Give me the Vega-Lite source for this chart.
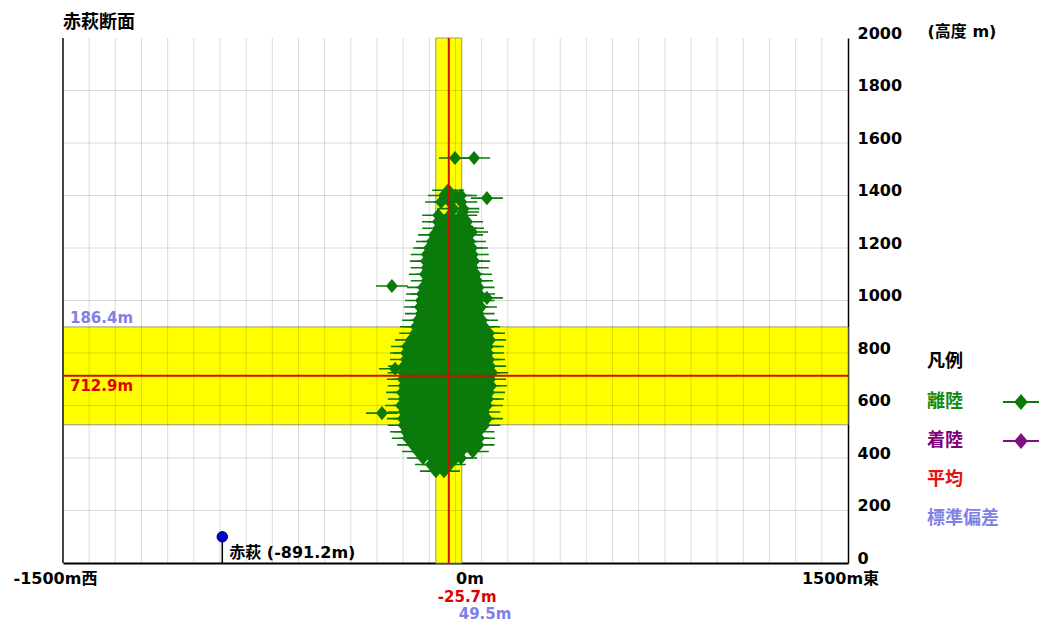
{
  "$schema": "https://vega.github.io/schema/vega-lite/v6.json",
  "width": 785,
  "height": 525,
  "autosize": {"type": "none"},
  "padding": {"left": 63, "top": 38, "right": 196, "bottom": 63},
  "title": {"text": "赤萩断面", "anchor": "start", "frame": "group", "font": "Noto Sans CJK JP", "fontSize": 18, "fontWeight": "bold", "color": "#000000", "offset": -9},
  "config": {"view": {"stroke": null}, "font": "DejaVu Sans"},
  "datasets": {
    "bands": [
      {"x1": -1500, "x2": 1500, "y1": 526.5, "y2": 899.3},
      {"x1": -75.2, "x2": 23.8, "y1": 0, "y2": 2000}
    ],
    "vgrid": [
      {"g": -1400}, {"g": -1300}, {"g": -1200}, {"g": -1100}, {"g": -1000}, {"g": -900}, {"g": -800}, {"g": -700}, {"g": -600}, {"g": -500},
      {"g": -400}, {"g": -300}, {"g": -200}, {"g": -100}, {"g": 0}, {"g": 100}, {"g": 200}, {"g": 300}, {"g": 400}, {"g": 500},
      {"g": 600}, {"g": 700}, {"g": 800}, {"g": 900}, {"g": 1000}, {"g": 1100}, {"g": 1200}, {"g": 1300}, {"g": 1400}
    ],
    "hgrid": [
      {"g": 200}, {"g": 400}, {"g": 600}, {"g": 800}, {"g": 1000}, {"g": 1200}, {"g": 1400}, {"g": 1600}, {"g": 1800}
    ],
    "stats": [{"mx": -25.7, "sx": 49.5, "my": 712.9, "sy": 186.4}],
    "site": [{"x": -891.2, "y0": 0, "y": 100, "name": "赤萩 (-891.2m)"}],
    "pts": [
      {"x": -28, "y": 1420, "type": "離陸"},
      {"x": -44, "y": 1400, "type": "離陸"}, {"x": 0, "y": 1400, "type": "離陸"}, {"x": 21, "y": 1400, "type": "離陸"},
      {"x": -55, "y": 1375, "type": "離陸"}, {"x": -22, "y": 1375, "type": "離陸"}, {"x": 22, "y": 1375, "type": "離陸"},
      {"x": -8, "y": 1350, "type": "離陸"}, {"x": 30, "y": 1350, "type": "離陸"},
      {"x": -66, "y": 1325, "type": "離陸"}, {"x": -22, "y": 1325, "type": "離陸"}, {"x": 22, "y": 1325, "type": "離陸"},
      {"x": -67, "y": 1300, "type": "離陸"}, {"x": -44, "y": 1300, "type": "離陸"}, {"x": 0, "y": 1300, "type": "離陸"}, {"x": 44, "y": 1300, "type": "離陸"},
      {"x": -66, "y": 1275, "type": "離陸"}, {"x": -22, "y": 1275, "type": "離陸"}, {"x": 22, "y": 1275, "type": "離陸"}, {"x": 48, "y": 1275, "type": "離陸"},
      {"x": -82, "y": 1250, "type": "離陸"}, {"x": -44, "y": 1250, "type": "離陸"}, {"x": 0, "y": 1250, "type": "離陸"}, {"x": 44, "y": 1250, "type": "離陸"},
      {"x": -90, "y": 1225, "type": "離陸"}, {"x": -66, "y": 1225, "type": "離陸"}, {"x": -22, "y": 1225, "type": "離陸"}, {"x": 22, "y": 1225, "type": "離陸"}, {"x": 55, "y": 1225, "type": "離陸"},
      {"x": -101, "y": 1200, "type": "離陸"}, {"x": -88, "y": 1200, "type": "離陸"}, {"x": -44, "y": 1200, "type": "離陸"}, {"x": 0, "y": 1200, "type": "離陸"}, {"x": 44, "y": 1200, "type": "離陸"}, {"x": 63, "y": 1200, "type": "離陸"},
      {"x": -110, "y": 1175, "type": "離陸"}, {"x": -66, "y": 1175, "type": "離陸"}, {"x": -22, "y": 1175, "type": "離陸"}, {"x": 22, "y": 1175, "type": "離陸"}, {"x": 66, "y": 1175, "type": "離陸"},
      {"x": -113, "y": 1150, "type": "離陸"}, {"x": -88, "y": 1150, "type": "離陸"}, {"x": -44, "y": 1150, "type": "離陸"}, {"x": 0, "y": 1150, "type": "離陸"}, {"x": 44, "y": 1150, "type": "離陸"}, {"x": 71, "y": 1150, "type": "離陸"},
      {"x": -110, "y": 1125, "type": "離陸"}, {"x": -66, "y": 1125, "type": "離陸"}, {"x": -22, "y": 1125, "type": "離陸"}, {"x": 22, "y": 1125, "type": "離陸"}, {"x": 66, "y": 1125, "type": "離陸"},
      {"x": -117, "y": 1100, "type": "離陸"}, {"x": -88, "y": 1100, "type": "離陸"}, {"x": -44, "y": 1100, "type": "離陸"}, {"x": 0, "y": 1100, "type": "離陸"}, {"x": 44, "y": 1100, "type": "離陸"}, {"x": 78, "y": 1100, "type": "離陸"},
      {"x": -110, "y": 1075, "type": "離陸"}, {"x": -66, "y": 1075, "type": "離陸"}, {"x": -22, "y": 1075, "type": "離陸"}, {"x": 22, "y": 1075, "type": "離陸"}, {"x": 66, "y": 1075, "type": "離陸"}, {"x": 82, "y": 1075, "type": "離陸"},
      {"x": -124, "y": 1050, "type": "離陸"}, {"x": -88, "y": 1050, "type": "離陸"}, {"x": -44, "y": 1050, "type": "離陸"}, {"x": 0, "y": 1050, "type": "離陸"}, {"x": 44, "y": 1050, "type": "離陸"}, {"x": 88, "y": 1050, "type": "離陸"},
      {"x": -128, "y": 1025, "type": "離陸"}, {"x": -110, "y": 1025, "type": "離陸"}, {"x": -66, "y": 1025, "type": "離陸"}, {"x": -22, "y": 1025, "type": "離陸"}, {"x": 22, "y": 1025, "type": "離陸"}, {"x": 66, "y": 1025, "type": "離陸"}, {"x": 90, "y": 1025, "type": "離陸"},
      {"x": -132, "y": 1000, "type": "離陸"}, {"x": -88, "y": 1000, "type": "離陸"}, {"x": -44, "y": 1000, "type": "離陸"}, {"x": 0, "y": 1000, "type": "離陸"}, {"x": 44, "y": 1000, "type": "離陸"}, {"x": 88, "y": 1000, "type": "離陸"},
      {"x": -136, "y": 975, "type": "離陸"}, {"x": -110, "y": 975, "type": "離陸"}, {"x": -66, "y": 975, "type": "離陸"}, {"x": -22, "y": 975, "type": "離陸"}, {"x": 22, "y": 975, "type": "離陸"}, {"x": 66, "y": 975, "type": "離陸"}, {"x": 97, "y": 975, "type": "離陸"},
      {"x": -132, "y": 950, "type": "離陸"}, {"x": -88, "y": 950, "type": "離陸"}, {"x": -44, "y": 950, "type": "離陸"}, {"x": 0, "y": 950, "type": "離陸"}, {"x": 44, "y": 950, "type": "離陸"}, {"x": 88, "y": 950, "type": "離陸"},
      {"x": -143, "y": 925, "type": "離陸"}, {"x": -110, "y": 925, "type": "離陸"}, {"x": -66, "y": 925, "type": "離陸"}, {"x": -22, "y": 925, "type": "離陸"}, {"x": 22, "y": 925, "type": "離陸"}, {"x": 66, "y": 925, "type": "離陸"}, {"x": 101, "y": 925, "type": "離陸"},
      {"x": -151, "y": 900, "type": "離陸"}, {"x": -132, "y": 900, "type": "離陸"}, {"x": -88, "y": 900, "type": "離陸"}, {"x": -44, "y": 900, "type": "離陸"}, {"x": 0, "y": 900, "type": "離陸"}, {"x": 44, "y": 900, "type": "離陸"}, {"x": 88, "y": 900, "type": "離陸"}, {"x": 109, "y": 900, "type": "離陸"},
      {"x": -154, "y": 875, "type": "離陸"}, {"x": -110, "y": 875, "type": "離陸"}, {"x": -66, "y": 875, "type": "離陸"}, {"x": -22, "y": 875, "type": "離陸"}, {"x": 22, "y": 875, "type": "離陸"}, {"x": 66, "y": 875, "type": "離陸"}, {"x": 110, "y": 875, "type": "離陸"}, {"x": 128, "y": 875, "type": "離陸"},
      {"x": -170, "y": 850, "type": "離陸"}, {"x": -132, "y": 850, "type": "離陸"}, {"x": -88, "y": 850, "type": "離陸"}, {"x": -44, "y": 850, "type": "離陸"}, {"x": 0, "y": 850, "type": "離陸"}, {"x": 44, "y": 850, "type": "離陸"}, {"x": 88, "y": 850, "type": "離陸"}, {"x": 132, "y": 850, "type": "離陸"},
      {"x": -185, "y": 825, "type": "離陸"}, {"x": -154, "y": 825, "type": "離陸"}, {"x": -110, "y": 825, "type": "離陸"}, {"x": -66, "y": 825, "type": "離陸"}, {"x": -22, "y": 825, "type": "離陸"}, {"x": 22, "y": 825, "type": "離陸"}, {"x": 66, "y": 825, "type": "離陸"}, {"x": 110, "y": 825, "type": "離陸"}, {"x": 124, "y": 825, "type": "離陸"},
      {"x": -189, "y": 800, "type": "離陸"}, {"x": -176, "y": 800, "type": "離陸"}, {"x": -132, "y": 800, "type": "離陸"}, {"x": -88, "y": 800, "type": "離陸"}, {"x": -44, "y": 800, "type": "離陸"}, {"x": 0, "y": 800, "type": "離陸"}, {"x": 44, "y": 800, "type": "離陸"}, {"x": 88, "y": 800, "type": "離陸"}, {"x": 124, "y": 800, "type": "離陸"},
      {"x": -189, "y": 775, "type": "離陸"}, {"x": -154, "y": 775, "type": "離陸"}, {"x": -110, "y": 775, "type": "離陸"}, {"x": -66, "y": 775, "type": "離陸"}, {"x": -22, "y": 775, "type": "離陸"}, {"x": 22, "y": 775, "type": "離陸"}, {"x": 66, "y": 775, "type": "離陸"}, {"x": 110, "y": 775, "type": "離陸"}, {"x": 128, "y": 775, "type": "離陸"},
      {"x": -197, "y": 750, "type": "離陸"}, {"x": -176, "y": 750, "type": "離陸"}, {"x": -132, "y": 750, "type": "離陸"}, {"x": -88, "y": 750, "type": "離陸"}, {"x": -44, "y": 750, "type": "離陸"}, {"x": 0, "y": 750, "type": "離陸"}, {"x": 44, "y": 750, "type": "離陸"}, {"x": 88, "y": 750, "type": "離陸"}, {"x": 132, "y": 750, "type": "離陸"},
      {"x": -198, "y": 725, "type": "離陸"}, {"x": -154, "y": 725, "type": "離陸"}, {"x": -110, "y": 725, "type": "離陸"}, {"x": -66, "y": 725, "type": "離陸"}, {"x": -22, "y": 725, "type": "離陸"}, {"x": 22, "y": 725, "type": "離陸"}, {"x": 66, "y": 725, "type": "離陸"}, {"x": 110, "y": 725, "type": "離陸"}, {"x": 140, "y": 725, "type": "離陸"},
      {"x": -201, "y": 700, "type": "離陸"}, {"x": -176, "y": 700, "type": "離陸"}, {"x": -132, "y": 700, "type": "離陸"}, {"x": -88, "y": 700, "type": "離陸"}, {"x": -44, "y": 700, "type": "離陸"}, {"x": 0, "y": 700, "type": "離陸"}, {"x": 44, "y": 700, "type": "離陸"}, {"x": 88, "y": 700, "type": "離陸"}, {"x": 132, "y": 700, "type": "離陸"},
      {"x": -198, "y": 675, "type": "離陸"}, {"x": -154, "y": 675, "type": "離陸"}, {"x": -110, "y": 675, "type": "離陸"}, {"x": -66, "y": 675, "type": "離陸"}, {"x": -22, "y": 675, "type": "離陸"}, {"x": 22, "y": 675, "type": "離陸"}, {"x": 66, "y": 675, "type": "離陸"}, {"x": 110, "y": 675, "type": "離陸"}, {"x": 136, "y": 675, "type": "離陸"},
      {"x": -204, "y": 650, "type": "離陸"}, {"x": -176, "y": 650, "type": "離陸"}, {"x": -132, "y": 650, "type": "離陸"}, {"x": -88, "y": 650, "type": "離陸"}, {"x": -44, "y": 650, "type": "離陸"}, {"x": 0, "y": 650, "type": "離陸"}, {"x": 44, "y": 650, "type": "離陸"}, {"x": 88, "y": 650, "type": "離陸"}, {"x": 128, "y": 650, "type": "離陸"},
      {"x": -198, "y": 625, "type": "離陸"}, {"x": -154, "y": 625, "type": "離陸"}, {"x": -110, "y": 625, "type": "離陸"}, {"x": -66, "y": 625, "type": "離陸"}, {"x": -22, "y": 625, "type": "離陸"}, {"x": 22, "y": 625, "type": "離陸"}, {"x": 66, "y": 625, "type": "離陸"}, {"x": 110, "y": 625, "type": "離陸"}, {"x": 124, "y": 625, "type": "離陸"},
      {"x": -208, "y": 600, "type": "離陸"}, {"x": -176, "y": 600, "type": "離陸"}, {"x": -132, "y": 600, "type": "離陸"}, {"x": -88, "y": 600, "type": "離陸"}, {"x": -44, "y": 600, "type": "離陸"}, {"x": 0, "y": 600, "type": "離陸"}, {"x": 44, "y": 600, "type": "離陸"}, {"x": 88, "y": 600, "type": "離陸"}, {"x": 120, "y": 600, "type": "離陸"},
      {"x": -198, "y": 575, "type": "離陸"}, {"x": -154, "y": 575, "type": "離陸"}, {"x": -110, "y": 575, "type": "離陸"}, {"x": -66, "y": 575, "type": "離陸"}, {"x": -22, "y": 575, "type": "離陸"}, {"x": 22, "y": 575, "type": "離陸"}, {"x": 66, "y": 575, "type": "離陸"}, {"x": 110, "y": 575, "type": "離陸"},
      {"x": -201, "y": 550, "type": "離陸"}, {"x": -176, "y": 550, "type": "離陸"}, {"x": -132, "y": 550, "type": "離陸"}, {"x": -88, "y": 550, "type": "離陸"}, {"x": -44, "y": 550, "type": "離陸"}, {"x": 0, "y": 550, "type": "離陸"}, {"x": 44, "y": 550, "type": "離陸"}, {"x": 88, "y": 550, "type": "離陸"}, {"x": 120, "y": 550, "type": "離陸"},
      {"x": -198, "y": 525, "type": "離陸"}, {"x": -154, "y": 525, "type": "離陸"}, {"x": -110, "y": 525, "type": "離陸"}, {"x": -66, "y": 525, "type": "離陸"}, {"x": -22, "y": 525, "type": "離陸"}, {"x": 22, "y": 525, "type": "離陸"}, {"x": 66, "y": 525, "type": "離陸"}, {"x": 110, "y": 525, "type": "離陸"},
      {"x": -189, "y": 500, "type": "離陸"}, {"x": -176, "y": 500, "type": "離陸"}, {"x": -132, "y": 500, "type": "離陸"}, {"x": -88, "y": 500, "type": "離陸"}, {"x": -44, "y": 500, "type": "離陸"}, {"x": 0, "y": 500, "type": "離陸"}, {"x": 44, "y": 500, "type": "離陸"}, {"x": 88, "y": 500, "type": "離陸"},
      {"x": -182, "y": 475, "type": "離陸"}, {"x": -154, "y": 475, "type": "離陸"}, {"x": -110, "y": 475, "type": "離陸"}, {"x": -66, "y": 475, "type": "離陸"}, {"x": -22, "y": 475, "type": "離陸"}, {"x": 22, "y": 475, "type": "離陸"}, {"x": 66, "y": 475, "type": "離陸"}, {"x": 90, "y": 475, "type": "離陸"},
      {"x": -162, "y": 450, "type": "離陸"}, {"x": -132, "y": 450, "type": "離陸"}, {"x": -88, "y": 450, "type": "離陸"}, {"x": -44, "y": 450, "type": "離陸"}, {"x": 0, "y": 450, "type": "離陸"}, {"x": 44, "y": 450, "type": "離陸"}, {"x": 88, "y": 450, "type": "離陸"},
      {"x": -143, "y": 425, "type": "離陸"}, {"x": -110, "y": 425, "type": "離陸"}, {"x": -66, "y": 425, "type": "離陸"}, {"x": -22, "y": 425, "type": "離陸"}, {"x": 22, "y": 425, "type": "離陸"}, {"x": 66, "y": 425, "type": "離陸"},
      {"x": -124, "y": 400, "type": "離陸"}, {"x": -88, "y": 400, "type": "離陸"}, {"x": -44, "y": 400, "type": "離陸"}, {"x": 0, "y": 400, "type": "離陸"}, {"x": 21, "y": 400, "type": "離陸"},
      {"x": -94, "y": 375, "type": "離陸"}, {"x": -66, "y": 375, "type": "離陸"}, {"x": -22, "y": 375, "type": "離陸"},
      {"x": -75, "y": 350, "type": "離陸"}, {"x": -44, "y": 350, "type": "離陸"},
      {"x": -2, "y": 1543, "type": "離陸"}, {"x": 71, "y": 1543, "type": "離陸"}, {"x": 120, "y": 1390, "type": "離陸"},
      {"x": -243, "y": 1055, "type": "離陸"}, {"x": 120, "y": 1010, "type": "離陸"}, {"x": -281, "y": 571, "type": "離陸"},
      {"x": -231, "y": 740, "type": "離陸"}, {"x": 63, "y": 1261, "type": "離陸"}, {"x": 29, "y": 1337, "type": "離陸"}
    ]
  },
  "layer": [
    {
      "data": {"name": "bands"},
      "mark": {"type": "rect", "fill": "#FFFF00", "stroke": "#9A9A70", "strokeWidth": 1},
      "encoding": {
        "x": {"field": "x1", "type": "quantitative", "scale": {"domain": [-1500, 1500]},
          "axis": {"values": [-1500, 0, 1500], "title": null, "grid": false, "ticks": false, "tickSize": 0,
            "domainColor": "#000000", "domainWidth": 2,
            "labelExpr": "datum.value == -1500 ? '-1500m西' : (datum.value == 0 ? '0m' : '1500m東')",
            "labelFont": "DejaVu Sans, Noto Sans CJK JP", "labelFontSize": 16, "labelFontWeight": "bold", "labelColor": "#000000",
            "labelPadding": 7, "labelFlush": false, "labelOverlap": false, "labelBound": false,
            "labelAlign": {"condition": {"test": "datum.value == 0", "value": "left"}, "value": "center"},
            "labelOffset": {"condition": {"test": "datum.value == 0", "value": 0}, "value": -8}}},
        "x2": {"field": "x2"},
        "y": {"field": "y1", "type": "quantitative", "scale": {"domain": [0, 2000]},
          "axis": {"orient": "right", "values": [0, 200, 400, 600, 800, 1000, 1200, 1400, 1600, 1800, 2000], "format": "d",
            "grid": false, "ticks": false, "tickSize": 0, "domainColor": "#000000", "domainWidth": 1.5,
            "labelFont": "DejaVu Sans", "labelFontSize": 16, "labelFontWeight": "bold", "labelColor": "#000000",
            "labelPadding": 9, "labelBaseline": "alphabetic", "labelAlign": "left", "labelOverlap": false, "labelBound": false, "labelFlush": false,
            "title": "(高度 m)", "titleAngle": 0, "titleX": 79, "titleY": -7, "titleAlign": "left", "titleBaseline": "middle",
            "titleFont": "DejaVu Sans, Noto Sans CJK JP", "titleFontSize": 16, "titleFontWeight": "bold", "titleColor": "#000000"}},
        "y2": {"field": "y2"}
      }
    },
    {
      "data": {"name": "vgrid"},
      "mark": {"type": "rule", "color": "#000000", "opacity": 0.14, "strokeWidth": 1},
      "encoding": {"x": {"field": "g", "type": "quantitative", "scale": {"domain": [-1500, 1500]}}}
    },
    {
      "data": {"name": "hgrid"},
      "mark": {"type": "rule", "color": "#000000", "opacity": 0.14, "strokeWidth": 1},
      "encoding": {"y": {"field": "g", "type": "quantitative", "scale": {"domain": [0, 2000]}}}
    },
    {
      "data": {"values": [{"g": -1500}]},
      "mark": {"type": "rule", "color": "#444444", "strokeWidth": 2},
      "encoding": {"x": {"field": "g", "type": "quantitative", "scale": {"domain": [-1500, 1500]}}}
    },
    {
      "data": {"name": "pts"},
      "mark": {"type": "point", "filled": true, "opacity": 1, "size": 1024, "strokeWidth": 0},
      "encoding": {
        "x": {"field": "x", "type": "quantitative", "scale": {"domain": [-1500, 1500]}},
        "y": {"field": "y", "type": "quantitative", "scale": {"domain": [0, 2000]}},
        "color": {"field": "type", "type": "nominal",
          "scale": {"domain": ["離陸", "着陸", "平均", "標準偏差"], "range": ["#0A7A0A", "#7E1084", "#E01010", "#8080E8"]},
          "legend": {"orient": "none", "legendX": 864, "legendY": 315, "title": "凡例", "padding": 0,
            "titleFont": "Noto Sans CJK JP", "titleFontSize": 18, "titleFontWeight": "bold", "titleColor": "#000000", "titlePadding": 13,
            "labelFont": "Noto Sans CJK JP", "labelFontSize": 18, "labelFontWeight": "bold",
            "symbolSize": 1296, "symbolStrokeWidth": 0, "symbolOpacity": 1, "rowPadding": 12,
            "encoding": {
              "labels": {"fill": {"value": {"expr": "datum.value === '離陸' ? '#138A13' : (datum.value === '着陸' ? '#800080' : (datum.value === '平均' ? '#E81010' : '#8080E8'))"}}, "x": {"value": 0}},
              "symbols": {"x": {"value": 94}}
            }}},
        "shape": {"field": "type", "type": "nominal",
          "scale": {"domain": ["離陸", "着陸", "平均", "標準偏差"], "range": ["M-1,-0.05H1V0.05H-1ZM0,-0.44L0.375,0L0,0.44L-0.375,0Z", "M-1,-0.05H1V0.05H-1ZM0,-0.44L0.375,0L0,0.44L-0.375,0Z", "M0,0", "M0,0"]},
          "legend": {"orient": "none", "legendX": 864, "legendY": 315, "title": "凡例", "padding": 0,
            "titleFont": "Noto Sans CJK JP", "titleFontSize": 18, "titleFontWeight": "bold", "titleColor": "#000000", "titlePadding": 13,
            "labelFont": "Noto Sans CJK JP", "labelFontSize": 18, "labelFontWeight": "bold",
            "symbolSize": 1296, "symbolStrokeWidth": 0, "symbolOpacity": 1, "rowPadding": 12,
            "encoding": {
              "labels": {"fill": {"value": {"expr": "datum.value === '離陸' ? '#138A13' : (datum.value === '着陸' ? '#800080' : (datum.value === '平均' ? '#E81010' : '#8080E8'))"}}, "x": {"value": 0}},
              "symbols": {"x": {"value": 94}}
            }}}
      }
    },
    {
      "data": {"name": "stats"},
      "mark": {"type": "rule", "color": "#CC1100", "strokeWidth": 2},
      "encoding": {"x": {"field": "mx", "type": "quantitative", "scale": {"domain": [-1500, 1500]}}}
    },
    {
      "data": {"name": "stats"},
      "mark": {"type": "rule", "color": "#CC1100", "strokeWidth": 2},
      "encoding": {"y": {"field": "my", "type": "quantitative", "scale": {"domain": [0, 2000]}}}
    },
    {
      "data": {"name": "site"},
      "mark": {"type": "rule", "color": "#000000", "strokeWidth": 1.5},
      "encoding": {
        "x": {"field": "x", "type": "quantitative", "scale": {"domain": [-1500, 1500]}},
        "y": {"field": "y0", "type": "quantitative", "scale": {"domain": [0, 2000]}},
        "y2": {"field": "y"}
      }
    },
    {
      "data": {"name": "site"},
      "mark": {"type": "point", "shape": "circle", "filled": true, "opacity": 1, "size": 110, "color": "#0000D0", "stroke": "#000060", "strokeWidth": 1},
      "encoding": {
        "x": {"field": "x", "type": "quantitative", "scale": {"domain": [-1500, 1500]}},
        "y": {"field": "y", "type": "quantitative", "scale": {"domain": [0, 2000]}}
      }
    },
    {
      "data": {"name": "site"},
      "mark": {"type": "text", "align": "left", "baseline": "alphabetic", "dx": 7, "dy": -5, "font": "DejaVu Sans, Noto Sans CJK JP", "fontSize": 16, "fontWeight": "bold", "color": "#000000"},
      "encoding": {
        "x": {"field": "x", "type": "quantitative", "scale": {"domain": [-1500, 1500]}},
        "y": {"field": "y0", "type": "quantitative", "scale": {"domain": [0, 2000]}},
        "text": {"field": "name"}
      }
    },
    {
      "data": {"values": [{"x": -1500, "y": 899.3, "t": "186.4m"}]},
      "mark": {"type": "text", "align": "left", "baseline": "alphabetic", "dx": 7, "dy": -4, "font": "DejaVu Sans", "fontSize": 15, "fontWeight": "bold", "color": "#8080E8"},
      "encoding": {
        "x": {"field": "x", "type": "quantitative", "scale": {"domain": [-1500, 1500]}},
        "y": {"field": "y", "type": "quantitative", "scale": {"domain": [0, 2000]}},
        "text": {"field": "t"}
      }
    },
    {
      "data": {"values": [{"x": -1500, "y": 712.9, "t": "712.9m"}]},
      "mark": {"type": "text", "align": "left", "baseline": "top", "dx": 7, "dy": 3, "font": "DejaVu Sans", "fontSize": 15, "fontWeight": "bold", "color": "#E00000"},
      "encoding": {
        "x": {"field": "x", "type": "quantitative", "scale": {"domain": [-1500, 1500]}},
        "y": {"field": "y", "type": "quantitative", "scale": {"domain": [0, 2000]}},
        "text": {"field": "t"}
      }
    },
    {
      "data": {"values": [{"x": -75.2, "y": 0, "t": "-25.7m"}]},
      "mark": {"type": "text", "align": "left", "baseline": "top", "dx": 2, "dy": 27, "font": "DejaVu Sans", "fontSize": 15, "fontWeight": "bold", "color": "#E00000"},
      "encoding": {
        "x": {"field": "x", "type": "quantitative", "scale": {"domain": [-1500, 1500]}},
        "y": {"field": "y", "type": "quantitative", "scale": {"domain": [0, 2000]}},
        "text": {"field": "t"}
      }
    },
    {
      "data": {"values": [{"x": 23.8, "y": 0, "t": "49.5m"}]},
      "mark": {"type": "text", "align": "left", "baseline": "top", "dx": -3, "dy": 44, "font": "DejaVu Sans", "fontSize": 15, "fontWeight": "bold", "color": "#8080E8"},
      "encoding": {
        "x": {"field": "x", "type": "quantitative", "scale": {"domain": [-1500, 1500]}},
        "y": {"field": "y", "type": "quantitative", "scale": {"domain": [0, 2000]}},
        "text": {"field": "t"}
      }
    }
  ]
}
